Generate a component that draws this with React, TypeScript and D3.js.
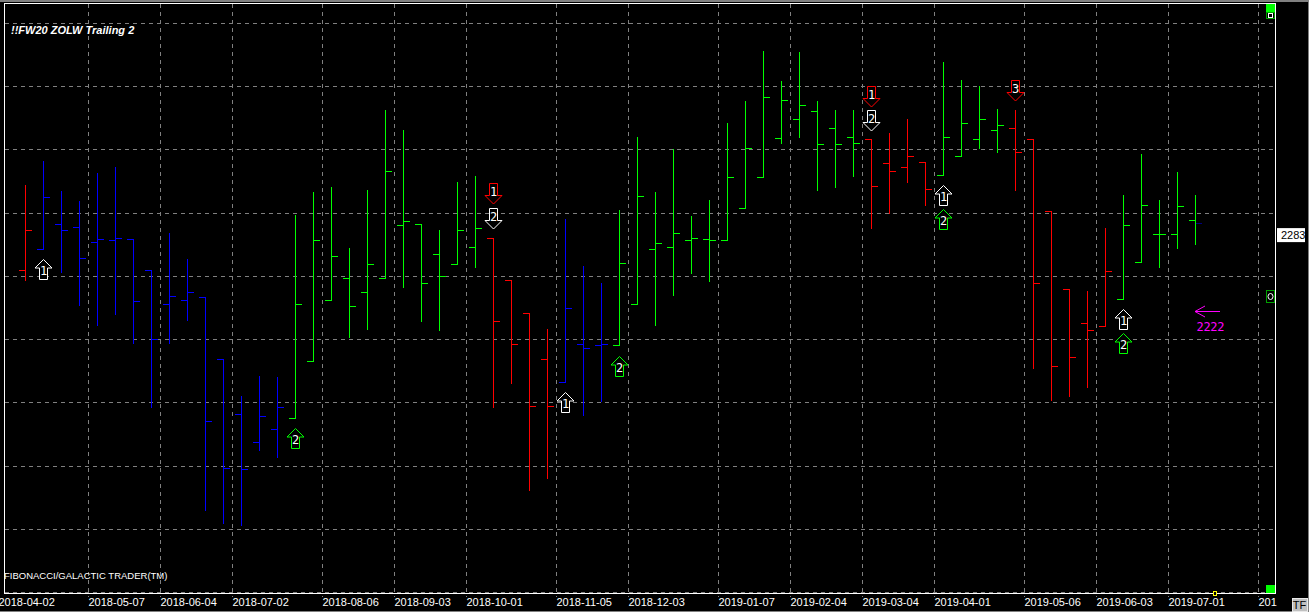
import React, { useEffect, useRef } from "react";
import * as d3 from "d3";

// weekly bars. first bar sits in the week after 2018-04-02
const highs = [2322, 2341, 2317, 2309, 2331, 2336, 2279, 2255, 2284, 2263, 2233, 2184, 2155, 2171, 2170, 2298, 2316, 2320, 2272, 2318, 2381, 2365, 2291, 2286, 2324, 2329, 2280, 2247, 2221, 2208, 2295, 2258, 2244, 2302, 2360, 2316, 2350, 2297, 2310, 2371, 2388, 2428, 2404, 2427, 2388, 2381, 2381, 2358, 2363, 2374, 2340, 2419, 2405, 2400, 2382, 2381, 2358, 2301, 2240, 2238, 2288, 2314, 2346, 2310, 2332, 2314];
const lows = [2247, 2271, 2253, 2227, 2211, 2220, 2197, 2146, 2197, 2215, 2065, 2055, 2053, 2112, 2107, 2138, 2183, 2231, 2202, 2208, 2248, 2241, 2214, 2207, 2259, 2257, 2146, 2165, 2081, 2090, 2166, 2140, 2151, 2195, 2228, 2211, 2235, 2252, 2246, 2278, 2304, 2328, 2355, 2360, 2318, 2320, 2329, 2288, 2300, 2324, 2306, 2330, 2345, 2351, 2348, 2318, 2177, 2152, 2155, 2162, 2210, 2232, 2261, 2257, 2272, 2275];
const opens = [2255, 2271, 2291, 2289, 2277, 2278, 2279, 2255, 2228, 2231, 2233, 2184, 2141, 2119, 2129, 2138, 2183, 2231, 2248, 2237, 2248, 2290, 2291, 2267, 2259, 2273, 2280, 2247, 2221, 2184, 2166, 2196, 2195, 2195, 2228, 2271, 2273, 2278, 2279, 2278, 2304, 2328, 2359, 2374, 2380, 2367, 2360, 2358, 2339, 2336, 2340, 2330, 2345, 2358, 2365, 2367, 2358, 2301, 2240, 2213, 2210, 2232, 2261, 2283, 2283, 2294];
const closes = [2286, 2312, 2286, 2264, 2279, 2280, 2230, 2200, 2234, 2237, 2135, 2098, 2097, 2139, 2146, 2228, 2278, 2266, 2226, 2259, 2333, 2293, 2244, 2250, 2286, 2288, 2214, 2196, 2147, 2147, 2225, 2193, 2196, 2260, 2313, 2276, 2284, 2280, 2278, 2328, 2351, 2391, 2389, 2385, 2354, 2354, 2355, 2321, 2333, 2345, 2319, 2360, 2371, 2374, 2369, 2348, 2244, 2179, 2186, 2207, 2254, 2290, 2306, 2283, 2305, 2292];
// trend state per bar: r red, b blue, g green
const trend = "rbbbbbbbbbbbbbbgggggggggggrrrrbbbggggggggggggggrrrrggggrrrrrrggggg";

const yTicks = [2000, 2050, 2100, 2150, 2200, 2250, 2300, 2350, 2400, 2450];
const weekSlots = [0, 5, 9, 13, 18, 22, 26, 31, 35, 40, 44, 48, 52, 57, 61, 65, 70];
const weekLabels = ["2018-04-02", "2018-05-07", "2018-06-04", "2018-07-02", "2018-08-06", "2018-09-03", "2018-10-01", "2018-11-05", "2018-12-03", "2019-01-07", "2019-02-04", "2019-03-04", "2019-04-01", "2019-05-06", "2019-06-03", "2019-07-01", "201"];

// bar index (1-based), price of the arrow's far end, direction, number, colour
const signalBars = [2, 16, 27, 27, 31, 34, 48, 48, 52, 52, 56, 62, 62];
const signalPrices = [2263, 2130, 2323, 2304, 2158, 2187, 2400, 2381, 2322, 2303, 2405, 2224, 2205];
const signalDirs = ["up", "up", "down", "down", "up", "up", "down", "down", "up", "up", "down", "up", "up"];
const signalLabels = ["1", "2", "1", "2", "1", "2", "1", "2", "1", "2", "3", "1", "2"];
const signalColors = ["#fff", "#00ff00", "#ff0000", "#fff", "#fff", "#00ff00", "#ff0000", "#fff", "#fff", "#00ff00", "#ff0000", "#fff", "#00ff00"];

const lastPrice = 2283;
const targetPrice = 2222;
const markerPrice = 2233;

const colors: Record<string, string> = { r: "#ff0000", b: "#0000ff", g: "#00ff00" };
const uiFont = "'Liberation Sans', Arial, sans-serif";
const monoFont = "'DejaVu Sans Mono', monospace";

const px = (v: number) => Math.floor(v) + 0.5; // snap to a pixel row/column

export default function App() {
  const ref = useRef<SVGSVGElement>(null);

  useEffect(() => {
    const svg = d3.select(ref.current as SVGSVGElement);
    svg.selectAll("*").remove();

    const x = d3.scaleLinear().domain([0, 1]).range([-2, 16]); // one slot per week
    const y = d3.scaleLinear().domain([2000, 2450]).range([592.7, 23.3]);
    const barX = (i: number) => px(x(i + 1.5));

    // window chrome
    svg.append("rect").attr("width", 1308).attr("height", 611).attr("fill", "#000");
    svg.append("rect").attr("width", 1309).attr("height", 2).attr("fill", "#808080");
    svg.append("rect").attr("y", 611).attr("width", 1309).attr("height", 1).attr("fill", "#808080");
    svg.append("rect").attr("x", 1308).attr("width", 1).attr("height", 612).attr("fill", "#808080");

    const defs = svg.append("defs");
    defs.append("clipPath").attr("id", "right-clip").append("rect").attr("x", 1276).attr("width", 32).attr("height", 611);

    // frame
    const frame = svg.append("g").attr("stroke", "#fff").attr("shape-rendering", "crispEdges");
    frame.append("line").attr("x1", 4.5).attr("x2", 4.5).attr("y1", 3).attr("y2", 594);
    frame.append("line").attr("x1", 4).attr("x2", 1276).attr("y1", 3.5).attr("y2", 3.5);
    frame.append("line").attr("x1", 1275.5).attr("x2", 1275.5).attr("y1", 3).attr("y2", 594);
    frame.append("line").attr("x1", 4).attr("x2", 1276).attr("y1", 593.5).attr("y2", 593.5);

    // grid
    const grid = svg.append("g").attr("stroke", "#808080").attr("stroke-dasharray", "4 4").attr("shape-rendering", "crispEdges");
    grid.selectAll("line.h").data(yTicks).join("line").attr("class", "h")
      .attr("x1", 5).attr("x2", 1275)
      .attr("y1", (d) => px(y(d))).attr("y2", (d) => px(y(d)));
    grid.selectAll("line.v").data(weekSlots.slice(1)).join("line").attr("class", "v")
      .attr("x1", (d) => px(x(d))).attr("x2", (d) => px(x(d)))
      .attr("y1", 4).attr("y2", 597);

    // price axis
    const yAxis = svg.append("g").attr("clip-path", "url(#right-clip)").attr("transform", "translate(1276.5,0)")
      .call(d3.axisRight(y).tickValues(yTicks).tickSize(5).tickPadding(6).tickFormat((d) => String(d)));
    yAxis.select(".domain").remove();
    yAxis.selectAll("line").attr("stroke", "#808080").attr("shape-rendering", "crispEdges");
    yAxis.selectAll("text").attr("fill", "#fff").attr("font-family", uiFont).attr("font-size", 11);

    // time axis, labels start at the grid line
    const xAxis = svg.append("g").attr("transform", "translate(0,595)")
      .call(d3.axisBottom(x).tickValues(weekSlots).tickSize(0).tickPadding(3)
        .tickFormat((_, i) => weekLabels[i]));
    xAxis.select(".domain").remove();
    xAxis.selectAll("text").attr("fill", "#fff").attr("font-family", uiFont).attr("font-size", 11).attr("text-anchor", "start");

    // ohlc bars
    const bars = svg.append("g").attr("shape-rendering", "crispEdges");
    highs.forEach((h, i) => {
      const c = colors[trend[i]];
      const bx = barX(i);
      bars.append("line").attr("x1", bx).attr("x2", bx).attr("y1", Math.floor(y(h))).attr("y2", Math.floor(y(lows[i])) + 1).attr("stroke", c);
      bars.append("line").attr("x1", bx - 6.5).attr("x2", bx).attr("y1", px(y(opens[i]))).attr("y2", px(y(opens[i]))).attr("stroke", c);
      bars.append("line").attr("x1", bx).attr("x2", bx + 6.5).attr("y1", px(y(closes[i]))).attr("y2", px(y(closes[i])))
        .attr("stroke", i === highs.length - 1 ? "#000080" : c);
    });

    // signal arrows
    const arrowLine = d3.line();
    signalBars.forEach((b, i) => {
      const bx = barX(b - 1);
      const end = Math.floor(y(signalPrices[i])) + 0.5;
      const up = signalDirs[i] === "up";
      const pts: [number, number][] = up
        ? [[0, 0], [8.5, 8.5], [4, 8.5], [4, 20], [-4, 20], [-4, 8.5], [-8.5, 8.5]]
        : [[-4, 0], [4, 0], [4, 12], [8.5, 12], [0, 20.5], [-8.5, 12], [-4, 12]];
      const g = svg.append("g").attr("transform", `translate(${bx},${end})`);
      g.append("path").attr("d", arrowLine(pts) + "Z").attr("fill", "#000").attr("stroke", signalColors[i]).attr("stroke-width", 1);
      g.append("text").attr("y", up ? 15.5 : 12.5).attr("text-anchor", "middle").attr("fill", "#fff")
        .attr("font-family", monoFont).attr("font-size", 12).text(signalLabels[i]);
    });

    // target arrow
    const ty = px(y(targetPrice));
    const target = svg.append("g").attr("stroke", "#ff00ff").attr("fill", "none");
    target.append("line").attr("x1", 1195).attr("x2", 1220).attr("y1", ty).attr("y2", ty).attr("shape-rendering", "crispEdges");
    target.append("path").attr("d", `M1205,${ty - 5.5}L1195,${ty}L1205,${ty + 5.5}`);
    svg.append("text").attr("x", 1196.5).attr("y", ty + 19).attr("fill", "#ff00ff").attr("font-family", monoFont)
      .attr("font-size", 12).attr("letter-spacing", -0.3).text(String(targetPrice));

    // last price box
    const ly = y(lastPrice);
    svg.append("rect").attr("x", 1277).attr("y", ly - 6.5).attr("width", 28).attr("height", 14).attr("fill", "#fff");
    svg.append("text").attr("x", 1281).attr("y", ly + 4.5).attr("fill", "#000").attr("font-family", uiFont).attr("font-size", 11).text(String(lastPrice));

    // scale handles on the right edge
    const ui = svg.append("g").attr("shape-rendering", "crispEdges");
    ui.append("rect").attr("x", 1266).attr("y", 4).attr("width", 9).attr("height", 8).attr("fill", "#00ff00");
    ui.append("rect").attr("x", 1266.5).attr("y", 12.5).attr("width", 8).attr("height", 6).attr("fill", "#000").attr("stroke", "#00a000");
    ui.append("rect").attr("x", 1268.5).attr("y", 13.5).attr("width", 4).attr("height", 4).attr("fill", "#000").attr("stroke", "#fff");
    ui.append("rect").attr("x", 1266).attr("y", 585).attr("width", 9).attr("height", 8).attr("fill", "#00ff00");
    const my = y(markerPrice);
    ui.append("rect").attr("x", 1266.5).attr("y", Math.floor(my) - 6.5).attr("width", 8).attr("height", 12).attr("fill", "#000").attr("stroke", "#00a000");
    svg.append("ellipse").attr("cx", 1270.5).attr("cy", Math.floor(my) - 0.5).attr("rx", 2.5).attr("ry", 3).attr("fill", "none").attr("stroke", "#fff");
    ui.append("rect").attr("x", 1213.5).attr("y", 591.5).attr("width", 3).attr("height", 4).attr("fill", "#000").attr("stroke", "#ffff00");

    // TF button
    ui.append("rect").attr("x", 1292).attr("y", 598).attr("width", 15).attr("height", 13).attr("fill", "#c0c0c0").attr("stroke", "#e8e8e8").attr("stroke-width", 1);
    svg.append("text").attr("x", 1299.5).attr("y", 608.5).attr("text-anchor", "middle").attr("fill", "#000")
      .attr("font-family", uiFont).attr("font-size", 11).attr("font-weight", 400).text("TF");

    // captions
    svg.append("text").attr("x", 11).attr("y", 34).attr("fill", "#fff").attr("font-family", uiFont)
      .attr("font-size", 11).attr("font-weight", 700).attr("font-style", "italic").text("!!FW20 ZOLW Trailing 2");
    svg.append("text").attr("x", 4).attr("y", 579).attr("fill", "#fff").attr("font-family", uiFont)
      .attr("font-size", 9.5).text("FIBONACCI/GALACTIC TRADER(TM)");
  }, []);

  return <svg ref={ref} width={1312} height={613} style={{ position: "absolute", left: 0, top: 0, display: "block", background: "#fff" }} />;
}
